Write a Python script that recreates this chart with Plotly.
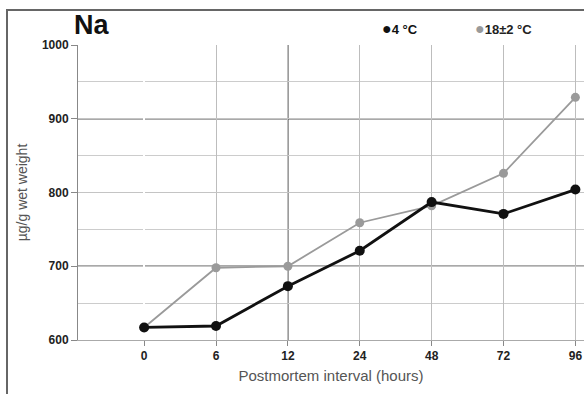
import plotly.graph_objects as go

categories = ["0", "6", "12", "24", "48", "72", "96"]
na_4c = [617, 619, 673, 721, 787, 771, 804]
na_18c = [617, 698, 700, 759, 782, 826, 929]
y_ticks = [600, 700, 800, 900, 1000]
dark_y_lines = [700, 900]
dark_x_lines = ["12"]

xpos = list(range(len(categories)))
W, H = 584, 394
ML, MR, MT, MB = 78, 0, 45, 54
PW, PH = W - ML - MR, H - MT - MB


def px(x):
    return (x - ML) / PW


def py(y):
    return (H - MB - y) / PH


fig = go.Figure()
fig.add_trace(go.Scatter(x=xpos, y=na_18c, mode="lines+markers", name="18±2 °C",
                         line=dict(color="#9a9a9a", width=1.8),
                         marker=dict(color="#9a9a9a", size=9), showlegend=False))
fig.add_trace(go.Scatter(x=xpos, y=na_4c, mode="lines+markers", name="4 °C",
                         line=dict(color="#111111", width=2.8),
                         marker=dict(color="#111111", size=10), showlegend=False))

shapes = []
for yv in dark_y_lines:
    shapes.append(dict(type="line", xref="paper", x0=0, x1=1, yref="y", y0=yv, y1=yv,
                       line=dict(color="#555555", width=1.3), layer="below"))
for c in dark_x_lines:
    xi = categories.index(c)
    shapes.append(dict(type="line", xref="x", x0=xi, x1=xi, yref="paper", y0=0, y1=1,
                       line=dict(color="#444444", width=1.3), layer="below"))
# outer frame (top and left edges of the scanned figure)
shapes.append(dict(type="path", xref="paper", yref="paper",
                   path=f"M {px(7)} {py(H + 5)} L {px(7)} {py(10)} L {px(W + 5)} {py(10)}",
                   line=dict(color="#666666", width=2)))

fig.update_layout(
    width=W, height=H,
    margin=dict(l=ML, r=MR, t=MT, b=MB, autoexpand=False),
    paper_bgcolor="white", plot_bgcolor="white",
    font=dict(family="Liberation Sans, Arial, sans-serif", color="#222"),
    shapes=shapes,
    xaxis=dict(range=[-0.92, 6.12], tickvals=xpos, ticktext=categories, automargin=False,
               showgrid=True, gridcolor="#bdbdbd", gridwidth=1,
               showline=True, linecolor="#aaaaaa", linewidth=1,
               ticks="outside", ticklen=5, tickcolor="#888",
               tickfont=dict(size=12, color="#222", weight="bold"),
               title=dict(text="Postmortem interval (hours)", standoff=8,
                          font=dict(size=15, color="#555"))),
    yaxis=dict(range=[600, 1000], tickvals=y_ticks, automargin=False,
               showgrid=True, gridcolor="#c4c4c4", gridwidth=1,
               minor=dict(dtick=50, showgrid=True, gridcolor="#cccccc", gridwidth=1),
               showline=True, linecolor="#888888", linewidth=1,
               ticks="outside", ticklen=6, tickcolor="#888",
               tickfont=dict(size=12, color="#222", weight="bold"),
               title=dict(text="µg/g wet weight", standoff=10,
                          font=dict(size=14, color="#555")),
               zeroline=False),
    annotations=[
        dict(text="<b>Na</b>", xref="paper", yref="paper", x=px(72), y=py(25),
             xanchor="left", yanchor="middle", showarrow=False, font=dict(size=27, color="#111")),
        dict(text="<span style='color:#111;font-size:16px'>●</span><b>4 °C</b>", xref="paper", yref="paper",
             x=px(380), y=py(28), xanchor="left", yanchor="middle",
             showarrow=False, font=dict(size=13, color="#111")),
        dict(text="<span style='color:#9a9a9a;font-size:16px'>●</span><b>18±2 °C</b>", xref="paper", yref="paper",
             x=px(473), y=py(28), xanchor="left", yanchor="middle",
             showarrow=False, font=dict(size=13, color="#222")),
    ],
)

fig.write_html("out.html", config={"displayModeBar": False},
               post_script="document.body.style.margin='0';document.body.style.overflow='hidden';")
